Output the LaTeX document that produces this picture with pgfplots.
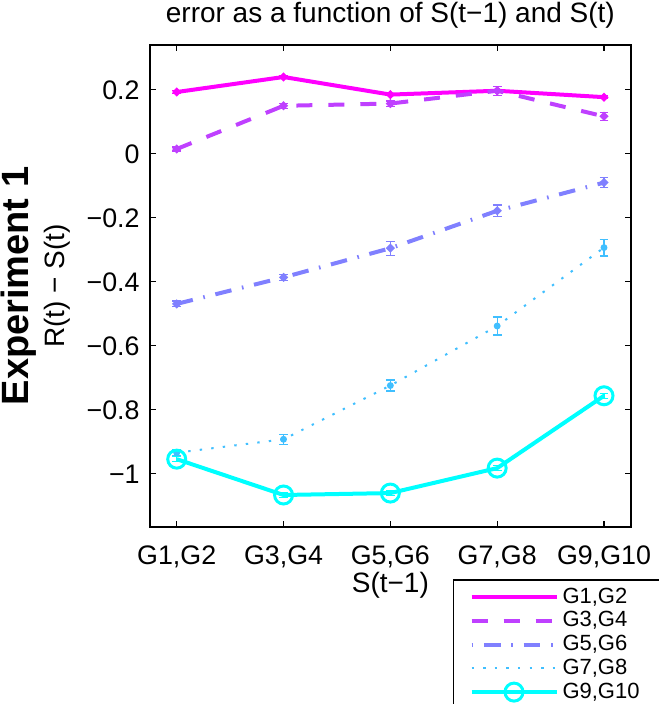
\documentclass[border=0pt]{standalone}
\usepackage{fontspec}
\setmainfont{Liberation Sans}
\usepackage{pgfplots}
\pgfplotsset{compat=1.18}
\usepackage{pgfplotstable}

% cool colormap, magenta -> cyan
\definecolor{cA}{rgb}{1,0,1}
\definecolor{cB}{rgb}{0.75,0.25,1}
\definecolor{cC}{rgb}{0.5,0.5,1}
\definecolor{cD}{rgb}{0.25,0.75,1}
\definecolor{cE}{rgb}{0,1,1}

\pgfplotstableread{
x y e
1 0.193 0.004
2 0.240 0.004
3 0.185 0.004
4 0.197 0.005
5 0.177 0.004
}\gA
\pgfplotstableread{
x y e
1 0.015 0.006
2 0.150 0.008
3 0.157 0.008
4 0.197 0.014
5 0.117 0.013
}\gB
\pgfplotstableread{
x y e
1 -0.469 0.009
2 -0.386 0.010
3 -0.295 0.022
4 -0.178 0.018
5 -0.090 0.016
}\gC
\pgfplotstableread{
x y e
1 -0.934 0.010
2 -0.892 0.015
3 -0.724 0.017
4 -0.538 0.028
5 -0.293 0.026
}\gD
\pgfplotstableread{
x y e
1 -0.954 0.008
2 -1.066 0.008
3 -1.060 0.008
4 -0.982 0.008
5 -0.756 0.008
}\gE

\newcommand{\tck}{\fontsize{13.4}{15}\selectfont}
\newcommand{\lbl}{\fontsize{14}{16}\selectfont}

\begin{document}
\begin{tikzpicture}
\begin{axis}[
  name=ax,
  scale only axis,
  width=240.35pt, height=241pt,
  xmin=0.75, xmax=5.25,
  ymin=-1.166, ymax=0.34,
  xtick={1,2,3,4,5},
  xticklabels={{G1,G2},{G3,G4},{G5,G6},{G7,G8},{G9,G10}},
  ytick={-1,-0.8,-0.6,-0.4,-0.2,0,0.2},
  yticklabels={−1,−0.8,−0.6,−0.4,−0.2,0,0.2},
  tick align=inside,
  major tick length=3pt,
  tick style={black, line width=0.6pt},
  axis line style={black, line width=0.8pt},
  ticklabel style={font=\tck},
  xticklabel style={anchor=base, yshift=-18.5pt, inner sep=0pt},
  yticklabel style={anchor=east, xshift=-5pt, inner sep=0pt},
  legend style={font=\fontsize{11}{12}\selectfont, at={(axis description cs:0.6297,-0.108)}, anchor=north west,
    draw=black, line width=0.8pt, fill=white, inner xsep=8pt, inner ysep=2pt, row sep=-1.3pt,
    cells={anchor=west}},
  legend image code/.code={\draw[#1] (0pt,0pt) -- (42.5pt,0pt);},
  error bars/y dir=both, error bars/y explicit,
  error bars/error bar style={line width=0.6pt, solid},
  error bars/error mark options={rotate=90, mark size=2.2pt, line width=0.6pt},
]
\addplot[forget plot, cA, line width=2pt, mark=*, mark size=0.9pt, mark options={solid}]
  table[x=x, y=y, y error=e] {\gA};
\addplot[forget plot, cB, line width=2pt, dash pattern=on 8pt off 8pt, mark=*, mark size=0.9pt, mark options={solid}]
  table[x=x, y=y, y error=e] {\gB};
\addplot[forget plot, cC, line width=2pt, dash pattern=on 8.3pt off 5.4pt on 0.8pt off 5.4pt, mark=*, mark size=0.9pt, mark options={solid}]
  table[x=x, y=y, y error=e] {\gC};
\addplot[forget plot, cD, line width=1pt, dash pattern=on 1.2pt off 4.6pt, mark=*, mark size=1.2pt, mark options={solid}]
  table[x=x, y=y, y error=e] {\gD};
\addplot[forget plot, cE, line width=2pt, mark=o, mark size=4.5pt, mark options={solid, line width=1.5pt}]
  table[x=x, y=y, y error=e] {\gE};

\addlegendimage{cA, line width=2pt}
\addlegendentry{G1,G2}
\addlegendimage{cB, line width=2pt, dash pattern=on 8pt off 8pt}
\addlegendentry{G3,G4}
\addlegendimage{cC, line width=2pt, dash pattern=on 0.8pt off 5.4pt on 8.3pt off 5.4pt}
\addlegendentry{G5,G6}
\addlegendimage{cD, line width=1pt, dash pattern=on 1.2pt off 4.6pt}
\addlegendentry{G7,G8}
\addlegendimage{legend image code/.code={
    \draw[cE, line width=2pt] (0pt,0pt) -- (42.5pt,0pt);
    \draw[cE, line width=1.5pt] (21.25pt,0pt) circle (4.5pt);}}
\addlegendentry{G9,G10\hspace{8pt}}
\end{axis}
\node[font=\lbl, anchor=base] at ([yshift=11.3pt]ax.north) {error as a function of S(t−1) and S(t)};
\node[font=\lbl, anchor=base] at ([yshift=-33pt]ax.south) {S(t−1)};
\node[font=\lbl, rotate=90] at ([xshift=-46.5pt]ax.west) {R(t) − S(t)};
\node[rotate=90, font=\fontsize{19}{21}\selectfont\bfseries] at ([xshift=-65.5pt]ax.west) {Experiment 1};
\pgfresetboundingbox
\path ([xshift=-75pt,yshift=-88.5pt]ax.south west) rectangle ([xshift=13.65pt,yshift=22.5pt]ax.north east);
\end{tikzpicture}
\end{document}
